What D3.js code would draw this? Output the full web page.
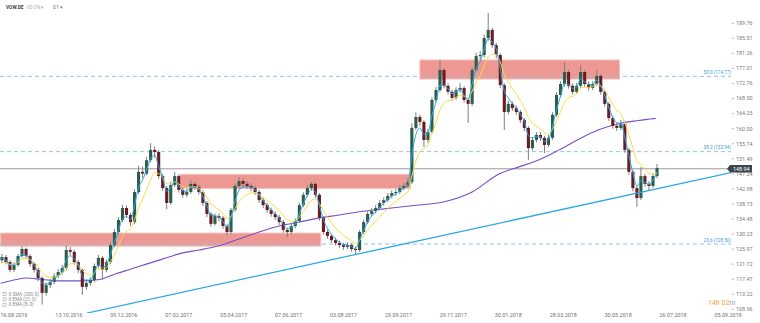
<!DOCTYPE html>
<html><head><meta charset="utf-8">
<script src="https://cdn.jsdelivr.net/npm/d3@7"></script>
<style>html,body{margin:0;padding:0;background:#fff;overflow:hidden}svg{display:block}</style>
</head><body><svg id="c" width="760" height="323"></svg>
<script>
// ---------- data (3-trading-day candles, VOW.DE) ----------
const opens=[122.8,123.7,122.3,120.1,121.5,124.0,126.0,124.0,121.8,120.1,
117.8,113.6,115.8,116.7,118.4,119.5,120.6,125.7,125.2,122.3,
120.1,115.3,116.4,117.2,121.2,123.5,120.1,122.3,127.1,130.8,
134.2,137.6,135.6,133.6,142.1,147.8,147.3,151.1,154.0,153.4,
146.6,143.2,139.0,144.1,146.6,142.7,141.3,142.1,144.4,143.5,
142.1,139.0,135.9,133.1,135.3,134.8,132.5,130.8,137.0,143.8,
145.2,144.4,143.8,143.2,142.1,139.8,138.4,137.0,135.9,135.0,
133.6,131.4,130.8,132.5,133.9,138.4,141.3,143.2,144.4,141.3,
134.8,130.8,129.7,128.5,127.7,127.1,126.6,127.1,126.0,125.7,
130.8,133.6,135.9,136.7,137.6,139.0,139.8,141.0,141.8,142.1,
143.2,143.8,144.9,160.2,163.3,161.9,156.8,159.1,168.1,170.9,
176.6,172.1,170.4,168.7,170.9,171.5,168.1,167.0,176.6,180.5,
180.8,185.6,187.9,183.6,180.8,172.3,164.7,167.0,165.8,164.7,
162.4,160.2,154.5,156.8,158.2,157.4,155.4,157.4,163.9,169.5,
172.6,176.0,172.1,170.4,172.1,176.0,172.6,171.5,172.6,174.9,
170.4,167.0,163.0,160.8,160.2,161.3,154.0,147.8,143.2,140.4,
146.6,144.4,143.8,146.6];
const highs=[124.6,124.3,122.8,122.2,124.6,126.9,126.4,124.5,122.3,120.6,
118.3,116.5,117.6,119.1,120.3,121.5,127.0,126.6,125.8,122.9,
120.5,117.2,118.0,121.9,124.3,124.0,123.0,127.8,131.6,135.0,
138.5,138.3,136.2,142.9,149.5,149.3,152.0,155.9,155.0,153.9,
147.2,143.8,145.0,147.8,147.1,143.4,143.0,145.5,145.0,144.1,
142.6,139.5,136.4,136.0,136.1,135.3,133.1,137.6,144.5,146.2,
145.9,145.1,144.6,143.9,142.7,140.4,139.0,137.7,136.6,135.6,
134.2,132.0,133.2,134.6,139.1,142.0,144.0,144.9,144.8,141.8,
135.3,131.5,130.3,129.2,128.4,127.8,127.9,127.6,126.7,131.4,
134.3,136.6,137.5,138.4,139.8,140.6,141.8,142.6,143.0,144.0,
144.6,146.0,161.5,164.6,164.0,162.4,160.0,168.9,171.8,179.4,
177.1,172.8,171.0,171.7,172.9,172.0,168.7,177.3,181.4,181.9,
186.6,192.7,188.5,184.2,181.3,172.8,167.9,167.7,166.5,165.3,
163.0,160.7,157.6,159.0,159.0,158.0,158.2,164.6,170.3,173.4,
178.8,176.6,172.8,172.9,178.0,176.5,173.3,173.4,176.6,175.4,
170.9,167.5,163.6,161.6,162.5,161.8,154.5,148.3,143.8,149.2,
147.2,145.2,147.4,150.0];
const lows=[122.0,121.6,119.4,119.5,121.0,123.5,123.3,121.0,119.3,116.9,
110.3,112.8,115.0,116.0,117.8,118.8,120.0,124.3,121.6,119.2,
113.0,114.5,115.6,116.6,120.6,117.3,119.4,121.7,126.5,130.1,
133.6,134.8,132.5,133.0,141.5,146.0,146.8,150.5,151.8,145.8,
142.4,137.2,138.5,143.5,142.0,140.5,140.6,141.6,142.7,141.4,
138.2,135.0,132.3,132.6,133.9,131.7,129.9,130.3,136.5,143.0,
143.6,143.0,142.3,141.3,139.0,137.6,136.2,135.1,134.2,132.8,
130.6,129.4,130.2,131.9,133.4,137.8,140.7,142.5,140.5,134.0,
130.0,128.9,127.7,127.0,126.3,125.8,126.0,125.3,124.6,125.2,
130.2,133.0,135.2,136.0,137.0,138.3,139.2,140.3,141.0,141.5,
142.6,143.2,144.3,159.6,160.8,154.8,156.0,158.6,167.4,170.3,
171.4,169.6,167.9,168.1,170.2,167.3,161.6,166.4,176.0,179.5,
180.1,184.8,182.8,179.9,171.5,159.6,164.0,165.0,163.9,161.6,
159.3,151.2,153.8,156.1,156.5,153.1,154.8,156.9,163.3,168.9,
171.9,171.3,169.6,169.8,171.5,171.8,170.7,170.9,172.0,169.6,
166.2,162.2,160.0,159.3,159.6,153.2,147.0,142.3,137.9,139.8,
143.6,142.5,143.2,146.0];
const closes=[123.7,122.3,120.1,121.5,124.0,126.0,124.0,121.8,120.1,117.8,
113.6,115.8,116.7,118.4,119.5,120.6,125.7,125.2,122.3,120.1,
115.3,116.4,117.2,121.2,123.5,120.1,122.3,127.1,130.8,134.2,
137.6,135.6,133.6,142.1,147.8,147.3,151.1,154.0,153.4,146.6,
143.2,139.0,144.1,146.6,142.7,141.3,142.1,144.4,143.5,142.1,
139.0,135.9,133.1,135.3,134.8,132.5,130.8,137.0,143.8,145.2,
144.4,143.8,143.2,142.1,139.8,138.4,137.0,135.9,135.0,133.6,
131.4,130.8,132.5,133.9,138.4,141.3,143.2,144.4,141.3,134.8,
130.8,129.7,128.5,127.7,127.1,126.6,127.1,126.0,125.7,130.8,
133.6,135.9,136.7,137.6,139.0,139.8,141.0,141.8,142.1,143.2,
143.8,144.9,160.2,163.3,161.9,156.8,159.1,168.1,170.9,176.6,
172.1,170.4,168.7,170.9,171.5,168.1,167.0,176.6,180.5,180.8,
185.6,187.9,183.6,180.8,172.3,164.7,167.0,165.8,164.7,162.4,
160.2,154.5,156.8,158.2,157.4,155.4,157.4,163.9,169.5,172.6,
176.0,172.1,170.4,172.1,176.0,172.6,171.5,172.6,174.9,170.4,
167.0,163.0,160.8,160.2,161.3,154.0,147.8,143.2,140.4,146.6,
144.4,143.8,146.6,148.9];
const barDays = 3; // each candle spans 3 trading days
// SMA(200) (trading-day index, value)
const smaDays=[0,12,19,31,44,61,74,86,98,111,124,136,148,163,178,193,208,223,238,253,268,283,307,332,352,372,387,402,417,432,446,461,476,489];
const smaValues=[116.3,117.4,117.8,117.4,117.0,117.0,117.4,119.0,120.4,122.0,123.5,124.9,125.7,126.9,128.8,130.8,132.5,133.6,134.8,135.6,136.5,137.2,138.2,139.4,142.1,147.2,149.2,151.2,154.0,157.1,159.6,161.4,162.3,162.9];
const emaSeeds={ema8:123.2, ema21:121.6};
// time axis
const dateLabels=["16.08.2016","13.10.2016","09.12.2016","07.02.2017","05.04.2017","07.06.2017","03.08.2017","29.09.2017","29.11.2017","30.01.2018","28.03.2018","30.05.2018","26.07.2018","05.09.2018"];
const dateTickDays=[10,51,92,133,174,215,256,297,338,379,420,461,502,543];
// price axis
const priceTicks=[108.96,113.22,117.47,121.72,125.97,130.23,134.48,138.73,142.98,147.24,151.49,155.74,160.00,164.25,168.50,172.76,177.01,181.26,185.51,189.76];
// fibonacci levels
const fibValues=[174.77,153.5,127.4];
const fibLabels=["50.0 (174.77)","38.2 (153.94)","23.6 (128.56)"];
// supply / demand zones
const zoneStartDay=[0,134,313];
const zoneEndDay=[239,306,462];
const zoneTop=[130.5,147.1,179.4];
const zoneBottom=[126.8,143.1,174.0];
// trend line
const trendDays=[64.5,548];
const trendValues=[107.9,147.8];
const lastPrice=148.94;
const legendItems=["SMA (200, 0)","EMA (21, 0)","EMA (8, 0)"];

// ---------- drawing ----------
const svg=d3.select("#c");
const x=d3.scaleLinear().domain([0,543]).range([0.6,728.0]);
const y=d3.scaleLinear().domain([108.96,189.76]).range([309.3,23.3]);
const FONT="Roboto, 'Liberation Sans', Arial, sans-serif";

svg.append("defs").append("clipPath").attr("id","plot").append("rect")
  .attr("x",0).attr("y",0).attr("width",731).attr("height",313);
const g=svg.append("g").attr("clip-path","url(#plot)");

// zones
g.selectAll("rect.zone").data(zoneTop).join("rect").attr("class","zone")
  .attr("x",(d,i)=>x(zoneStartDay[i])).attr("width",(d,i)=>x(zoneEndDay[i])-x(zoneStartDay[i]))
  .attr("y",d=>y(d)).attr("height",(d,i)=>y(zoneBottom[i])-y(d))
  .attr("fill","#ee9893").attr("stroke","#f6c2bd").attr("stroke-width",1);

// fib lines
g.selectAll("line.fib").data(fibValues).join("line")
  .attr("x1",0).attr("x2",731).attr("y1",d=>y(d)).attr("y2",d=>y(d))
  .attr("stroke","#8ec6ea").attr("stroke-width",1).attr("stroke-dasharray","4,3");
svg.selectAll("text.fib").data(fibLabels).join("text")
  .attr("x",731).attr("y",(d,i)=>y(fibValues[i])-2.3).attr("text-anchor","end")
  .attr("font-family",FONT).attr("font-size",4.6).attr("fill","#3f9ad6").text(d=>d);

// last price line
g.append("line").attr("x1",0).attr("x2",731).attr("y1",y(lastPrice)+1).attr("y2",y(lastPrice)+1)
  .attr("stroke","#9a9a9a").attr("stroke-width",1);

// SMA 200
const smaPts=smaDays.map((d,i)=>[d,smaValues[i]]);
g.append("path").datum(smaPts).attr("fill","none").attr("stroke","#7b4fc8").attr("stroke-width",1.1)
  .attr("d",d3.line().x(d=>x(d[0])).y(d=>y(d[1])).curve(d3.curveMonotoneX));

// candles
const cdays=closes.map((c,i)=>barDays*i+1);
const cg=g.append("g");
cg.selectAll("line.wick").data(closes).join("line")
  .attr("x1",(d,i)=>x(cdays[i])).attr("x2",(d,i)=>x(cdays[i]))
  .attr("y1",(d,i)=>y(highs[i])).attr("y2",(d,i)=>y(lows[i]))
  .attr("stroke","#7e7e7e").attr("stroke-width",1);
const bw=3.1;
cg.selectAll("rect.body").data(closes).join("rect")
  .attr("x",(d,i)=>x(cdays[i])-bw/2).attr("width",bw)
  .attr("y",(d,i)=>y(Math.max(d,opens[i])))
  .attr("height",(d,i)=>Math.max(0.8,Math.abs(y(d)-y(opens[i]))))
  .attr("fill",(d,i)=>d>=opens[i]?"#2d5e4c":"#6a1c22");

// EMAs
function ema(vals,period,seed){const a=1-Math.pow(1-2/(period+1),barDays);let e=seed;return vals.map(v=>(e=e+a*(v-e)));}
const ema21=ema(closes,21,emaSeeds.ema21), ema8=ema(closes,8,emaSeeds.ema8);
const lineGen=d3.line().x((d,i)=>x(cdays[i])).y(d=>y(d)).curve(d3.curveMonotoneX);
g.append("path").datum(ema21).attr("fill","none").attr("stroke","#f7dc45").attr("stroke-width",1).attr("d",lineGen);
g.append("path").datum(ema8).attr("fill","none").attr("stroke","#2aa9e6").attr("stroke-width",1).attr("d",lineGen);

// trend line
g.append("line").attr("x1",x(trendDays[0])).attr("x2",x(trendDays[1]))
  .attr("y1",y(trendValues[0])).attr("y2",y(trendValues[1]))
  .attr("stroke","#2aa9e8").attr("stroke-width",1.3);

// price axis
const ay=svg.append("g");
ay.selectAll("line").data(priceTicks).join("line")
  .attr("x1",731.5).attr("x2",734).attr("y1",d=>y(d)).attr("y2",d=>y(d)).attr("stroke","#b5b5b5").attr("stroke-width",0.8);
ay.selectAll("text").data(priceTicks).join("text")
  .attr("x",736).attr("y",d=>y(d)+1.9).attr("font-family",FONT).attr("font-size",5.4).attr("fill","#7a7a7a")
  .text(d=>d3.format(".2f")(d));

// last price tag
const ly=y(lastPrice)+1;
svg.append("path").attr("d",`M727,${ly} L730,${ly-3.8} L752,${ly-3.8} L752,${ly+3.8} L730,${ly+3.8} Z`).attr("fill","#3b4651");
svg.append("text").attr("x",733).attr("y",ly+1.9).attr("font-family",FONT).attr("font-size",5.4)
  .attr("fill","#ffffff").text(d3.format(".2f")(lastPrice));

// date axis
svg.append("g").selectAll("text").data(dateLabels).join("text")
  .attr("x",(d,i)=>x(dateTickDays[i])).attr("y",317).attr("text-anchor","middle")
  .attr("font-family",FONT).attr("font-size",5.4).attr("fill","#6f6f6f").text(d=>d);

// countdown
const cd=svg.append("text").attr("x",708).attr("y",305).attr("font-family",FONT).attr("font-size",7);
cd.append("tspan").attr("fill","#f2a43a").text("14h 02");
cd.append("tspan").attr("fill","#9a9a9a").text("m");

// legend
const lg=svg.append("g");
legendItems.forEach((t,i)=>{
  const yy=295.5+i*5.4;
  lg.append("rect").attr("x",3).attr("y",yy-3).attr("width",3).attr("height",3).attr("fill","none").attr("stroke","#a0a0a0").attr("stroke-width",0.6);
  lg.append("text").attr("x",8.5).attr("y",yy).attr("font-family",FONT).attr("font-size",4.6).attr("fill","#8a8a8a").text("X  "+t);
});

// header
const hd=svg.append("text").attr("x",6).attr("y",9).attr("font-family",FONT).attr("font-size",4.8);
hd.append("tspan").attr("font-weight","bold").attr("fill","#444").text("VOW.DE");
hd.append("tspan").attr("x",27).attr("fill","#b0b0b0").text("60 ON  ▾");
hd.append("tspan").attr("x",53).attr("fill","#777").text("D1   ▾");
</script></body></html>
